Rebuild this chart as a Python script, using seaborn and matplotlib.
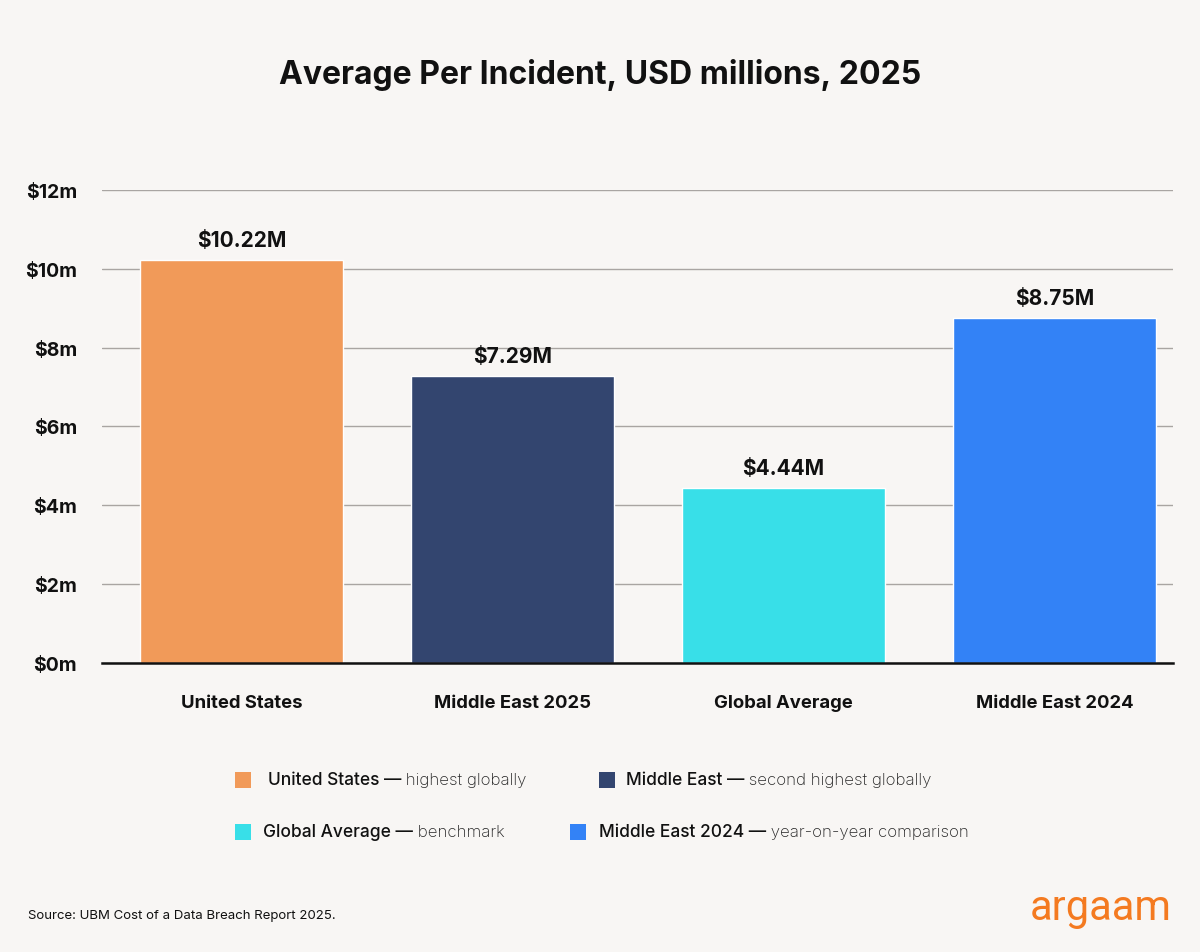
import matplotlib
matplotlib.use("Agg")
import matplotlib.pyplot as plt
import matplotlib.patches as mpatches
import pandas as pd
import seaborn as sns

categories = ["United States", "Middle East 2025", "Global Average", "Middle East 2024"]
values = [10.22, 7.29, 4.44, 8.75]
value_labels = ["$10.22M", "$7.29M", "$4.44M", "$8.75M"]
colors = ["#f19a59", "#33456f", "#38dfe8", "#3382f6"]
yticks = [0, 2, 4, 6, 8, 10, 12]
ytick_labels = ["$0m", "$2m", "$4m", "$6m", "$8m", "$10m", "$12m"]
legend_bold = ["United States —", "Middle East —", "Global Average —", "Middle East 2024 —"]
legend_light = [" highest globally", " second highest globally", " benchmark", " year-on-year comparison"]

bg = "#f8f6f4"
sns.set_theme(style="white")
plt.rcParams["font.family"] = ["Inter", "DejaVu Sans"]

df = pd.DataFrame({"category": categories, "value": values})

fig = plt.figure(figsize=(12, 9.53), dpi=100, facecolor=bg)
ax = fig.add_axes([0.085, 0.3033, 0.8925, 0.4963], facecolor=bg)

sns.barplot(data=df, x="category", y="value", hue="category", palette=colors,
            dodge=False, width=0.75, saturation=1, legend=False, ax=ax, zorder=3)

for cont, lab in zip(ax.containers, value_labels):
    ax.bar_label(cont, labels=[lab], padding=7, fontsize=15, fontweight="bold", color="#111111")

ax.set_ylim(0, 12)
ax.set_xlim(-0.515, 3.437)
ax.set_yticks(yticks)
ax.set_yticklabels(ytick_labels, fontsize=14, fontweight="bold", color="#111111")
ax.tick_params(axis="y", length=0, pad=18)
ax.tick_params(axis="x", length=0, pad=22, labelsize=13.3, labelcolor="#111111")
for t in ax.get_xticklabels():
    t.set_fontweight("bold")
ax.set_xlabel("")
ax.set_ylabel("")
ax.yaxis.grid(True, color="#a9a5a2", linewidth=1)
ax.set_axisbelow(True)
for s in ["top", "right", "left"]:
    ax.spines[s].set_visible(False)
ax.spines["bottom"].set_color("#111111")
ax.spines["bottom"].set_linewidth(1.8)
ax.spines["bottom"].set_zorder(5)

fig.text(0.5, 1 - 75 / 953, "Average Per Incident, USD millions, 2025", ha="center", va="center",
         fontsize=23, fontweight="bold", color="#111111")

# legend
W, H = 1200, 953
sq = [(235, 773), (599, 773), (235, 825), (570, 825)]
tx = [(268, 781), (626, 781), (263, 833), (599, 833)]
fig.canvas.draw()
renderer = fig.canvas.get_renderer()
for i in range(4):
    x0, y0 = sq[i]
    fig.patches.append(mpatches.Rectangle((x0 / W, 1 - (y0 + 16) / H), 16 / W, 16 / H,
                                          transform=fig.transFigure, facecolor=colors[i],
                                          edgecolor="none"))
    t = fig.text(tx[i][0] / W, 1 - tx[i][1] / H, legend_bold[i], ha="left", va="center",
                 fontsize=12.5, fontweight="medium", color="#111111")
    bb = t.get_window_extent(renderer=renderer)
    fig.text(bb.x1 / W, 1 - tx[i][1] / H, legend_light[i], ha="left", va="center",
             fontsize=12.2, fontweight="light", color="#262626")

fig.text(28 / W, 1 - 916 / H, "Source: UBM Cost of a Data Breach Report 2025.", ha="left",
         va="center", fontsize=9.5, color="#111111")
fig.text(1172 / W, 1 - 909 / H, "argaam", ha="right", va="center", fontsize=30,
         color="#f47a20", family=["Roboto", "DejaVu Sans"])

fig.savefig("out.png", dpi=100, facecolor=bg)
